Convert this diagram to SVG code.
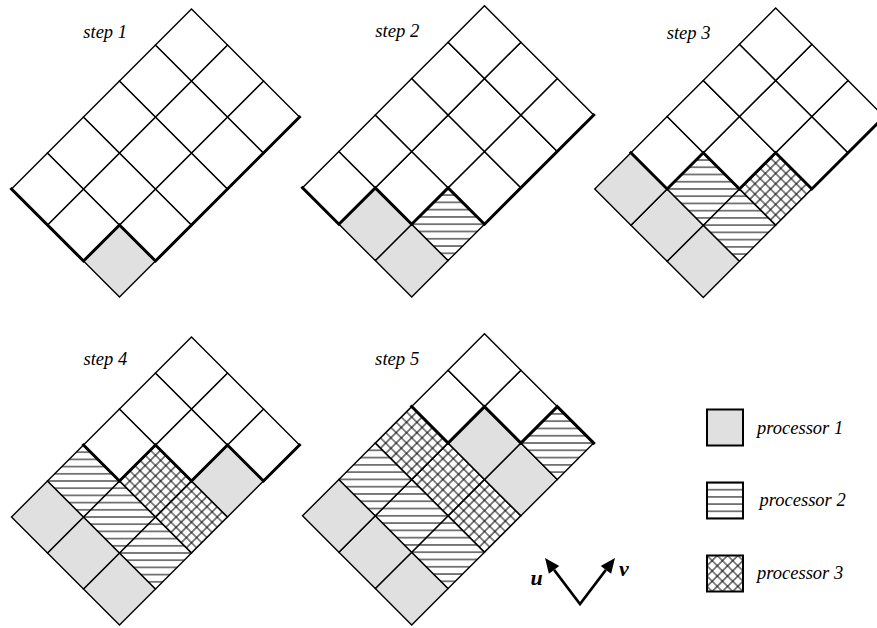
<svg xmlns="http://www.w3.org/2000/svg" width="877" height="628" viewBox="0 0 877 628">
<style>
.c{stroke:#000;stroke-width:1.4;stroke-linejoin:miter}
.e{fill:#fff}
.p1{fill:#e0e0e0}
.p2{fill:url(#hatch)}
.p3{fill:url(#cross)}
.front{fill:none;stroke:#000;stroke-width:3;stroke-linejoin:miter;stroke-linecap:square}
.lbl{font-family:"Liberation Serif","Times New Roman",serif;font-style:italic;font-size:18.5px;fill:#000}
.ax{font-family:"Liberation Serif","Times New Roman",serif;font-style:italic;font-weight:bold;font-size:22px;fill:#000}
.lg{stroke:#000;stroke-width:2}
</style>
<defs>
<pattern id="hatch" patternUnits="userSpaceOnUse" width="10" height="7.2" y="-3.6">
<rect width="10" height="7.2" fill="#fff"/>
<line x1="0" y1="3.6" x2="10" y2="3.6" stroke="#000" stroke-width="1"/>
</pattern>
<pattern id="cross" patternUnits="userSpaceOnUse" width="7.2727" height="7.2727" x="-3.6364" y="-3.6364" patternTransform="rotate(45)">
<rect width="7.2727" height="7.2727" fill="#fff"/>
<path d="M0,3.6364H7.2727M3.6364,0V7.2727" stroke="#000" stroke-width="1"/>
</pattern>
</defs>

<g id="step1" transform="translate(119.5,297)">
<polygon class="c p1" points="0,0 36,-36 0,-72 -36,-36"/>
<polygon class="c e" points="36,-36 72,-72 36,-108 0,-72"/>
<polygon class="c e" points="72,-72 108,-108 72,-144 36,-108"/>
<polygon class="c e" points="108,-108 144,-144 108,-180 72,-144"/>
<polygon class="c e" points="144,-144 180,-180 144,-216 108,-180"/>
<polygon class="c e" points="-36,-36 0,-72 -36,-108 -72,-72"/>
<polygon class="c e" points="0,-72 36,-108 0,-144 -36,-108"/>
<polygon class="c e" points="36,-108 72,-144 36,-180 0,-144"/>
<polygon class="c e" points="72,-144 108,-180 72,-216 36,-180"/>
<polygon class="c e" points="108,-180 144,-216 108,-252 72,-216"/>
<polygon class="c e" points="-72,-72 -36,-108 -72,-144 -108,-108"/>
<polygon class="c e" points="-36,-108 0,-144 -36,-180 -72,-144"/>
<polygon class="c e" points="0,-144 36,-180 0,-216 -36,-180"/>
<polygon class="c e" points="36,-180 72,-216 36,-252 0,-216"/>
<polygon class="c e" points="72,-216 108,-252 72,-288 36,-252"/>
<polyline class="front" points="-108,-108 -36,-36 0,-72 36,-36 180,-180"/>
<text class="lbl" x="-36.2" y="-259.5">step 1</text>
</g>

<g id="step2" transform="translate(411.7,297) scale(1.011)">
<polygon class="c p1" points="0,0 36,-36 0,-72 -36,-36"/>
<polygon class="c p2" points="36,-36 72,-72 36,-108 0,-72"/>
<polygon class="c e" points="72,-72 108,-108 72,-144 36,-108"/>
<polygon class="c e" points="108,-108 144,-144 108,-180 72,-144"/>
<polygon class="c e" points="144,-144 180,-180 144,-216 108,-180"/>
<polygon class="c p1" points="-36,-36 0,-72 -36,-108 -72,-72"/>
<polygon class="c e" points="0,-72 36,-108 0,-144 -36,-108"/>
<polygon class="c e" points="36,-108 72,-144 36,-180 0,-144"/>
<polygon class="c e" points="72,-144 108,-180 72,-216 36,-180"/>
<polygon class="c e" points="108,-180 144,-216 108,-252 72,-216"/>
<polygon class="c e" points="-72,-72 -36,-108 -72,-144 -108,-108"/>
<polygon class="c e" points="-36,-108 0,-144 -36,-180 -72,-144"/>
<polygon class="c e" points="0,-144 36,-180 0,-216 -36,-180"/>
<polygon class="c e" points="36,-180 72,-216 36,-252 0,-216"/>
<polygon class="c e" points="72,-216 108,-252 72,-288 36,-252"/>
<polyline class="front" points="-108,-108 -72,-72 -36,-108 0,-72 36,-108 72,-72 180,-180"/>
<text class="lbl" x="-36" y="-256.7">step 2</text>
</g>

<g id="step3" transform="translate(703.3,297.5) scale(1.005)">
<polygon class="c p1" points="0,0 36,-36 0,-72 -36,-36"/>
<polygon class="c p2" points="36,-36 72,-72 36,-108 0,-72"/>
<polygon class="c p3" points="72,-72 108,-108 72,-144 36,-108"/>
<polygon class="c e" points="108,-108 144,-144 108,-180 72,-144"/>
<polygon class="c e" points="144,-144 180,-180 144,-216 108,-180"/>
<polygon class="c p1" points="-36,-36 0,-72 -36,-108 -72,-72"/>
<polygon class="c p2" points="0,-72 36,-108 0,-144 -36,-108"/>
<polygon class="c e" points="36,-108 72,-144 36,-180 0,-144"/>
<polygon class="c e" points="72,-144 108,-180 72,-216 36,-180"/>
<polygon class="c e" points="108,-180 144,-216 108,-252 72,-216"/>
<polygon class="c p1" points="-72,-72 -36,-108 -72,-144 -108,-108"/>
<polygon class="c e" points="-36,-108 0,-144 -36,-180 -72,-144"/>
<polygon class="c e" points="0,-144 36,-180 0,-216 -36,-180"/>
<polygon class="c e" points="36,-180 72,-216 36,-252 0,-216"/>
<polygon class="c e" points="72,-216 108,-252 72,-288 36,-252"/>
<polyline class="front" points="-72,-144 -36,-108 0,-144 36,-108 72,-144 108,-108 180,-180"/>
<text class="lbl" x="-36.4" y="-257">step 3</text>
</g>

<g id="step4" transform="translate(119.5,625)">
<polygon class="c p1" points="0,0 36,-36 0,-72 -36,-36"/>
<polygon class="c p2" points="36,-36 72,-72 36,-108 0,-72"/>
<polygon class="c p3" points="72,-72 108,-108 72,-144 36,-108"/>
<polygon class="c p1" points="108,-108 144,-144 108,-180 72,-144"/>
<polygon class="c e" points="144,-144 180,-180 144,-216 108,-180"/>
<polygon class="c p1" points="-36,-36 0,-72 -36,-108 -72,-72"/>
<polygon class="c p2" points="0,-72 36,-108 0,-144 -36,-108"/>
<polygon class="c p3" points="36,-108 72,-144 36,-180 0,-144"/>
<polygon class="c e" points="72,-144 108,-180 72,-216 36,-180"/>
<polygon class="c e" points="108,-180 144,-216 108,-252 72,-216"/>
<polygon class="c p1" points="-72,-72 -36,-108 -72,-144 -108,-108"/>
<polygon class="c p2" points="-36,-108 0,-144 -36,-180 -72,-144"/>
<polygon class="c e" points="0,-144 36,-180 0,-216 -36,-180"/>
<polygon class="c e" points="36,-180 72,-216 36,-252 0,-216"/>
<polygon class="c e" points="72,-216 108,-252 72,-288 36,-252"/>
<polyline class="front" points="-36,-180 0,-144 36,-180 72,-144 108,-180 144,-144 180,-180"/>
<text class="lbl" x="-36" y="-260">step 4</text>
</g>

<g id="step5" transform="translate(411.7,625) scale(1.011)">
<polygon class="c p1" points="0,0 36,-36 0,-72 -36,-36"/>
<polygon class="c p2" points="36,-36 72,-72 36,-108 0,-72"/>
<polygon class="c p3" points="72,-72 108,-108 72,-144 36,-108"/>
<polygon class="c p1" points="108,-108 144,-144 108,-180 72,-144"/>
<polygon class="c p2" points="144,-144 180,-180 144,-216 108,-180"/>
<polygon class="c p1" points="-36,-36 0,-72 -36,-108 -72,-72"/>
<polygon class="c p2" points="0,-72 36,-108 0,-144 -36,-108"/>
<polygon class="c p3" points="36,-108 72,-144 36,-180 0,-144"/>
<polygon class="c p1" points="72,-144 108,-180 72,-216 36,-180"/>
<polygon class="c e" points="108,-180 144,-216 108,-252 72,-216"/>
<polygon class="c p1" points="-72,-72 -36,-108 -72,-144 -108,-108"/>
<polygon class="c p2" points="-36,-108 0,-144 -36,-180 -72,-144"/>
<polygon class="c p3" points="0,-144 36,-180 0,-216 -36,-180"/>
<polygon class="c e" points="36,-180 72,-216 36,-252 0,-216"/>
<polygon class="c e" points="72,-216 108,-252 72,-288 36,-252"/>
<polyline class="front" points="0,-216 36,-180 72,-216 108,-180 144,-216 180,-180"/>
<text class="lbl" x="-36.2" y="-257">step 5</text>
</g>

<g id="axes">
<polyline points="554.1,569.9 580,604 605.9,569.9" fill="none" stroke="#000" stroke-width="2.6" stroke-linejoin="miter"/>
<polygon points="545,558 559.3,566 548.9,573.8" fill="#000"/>
<polygon points="615,558 600.7,566 611.1,573.8" fill="#000"/>
<text class="ax" x="530.5" y="585">u</text>
<text class="ax" x="619" y="576">v</text>
</g>

<g id="legend-p1" transform="translate(707,409.5)">
<rect class="lg p1" x="0" y="0" width="36" height="36"/>
<text class="lbl" x="50" y="24">processor 1</text>
</g>
<g id="legend-p2" transform="translate(707,482.5)">
<rect class="lg p2" x="0" y="0" width="36" height="36"/>
<text class="lbl" x="52.5" y="23.5">processor 2</text>
</g>
<g id="legend-p3" transform="translate(707,555.5)">
<rect class="lg p3" x="0" y="0" width="36" height="36"/>
<text class="lbl" x="50" y="23.5">processor 3</text>
</g>
</svg>
